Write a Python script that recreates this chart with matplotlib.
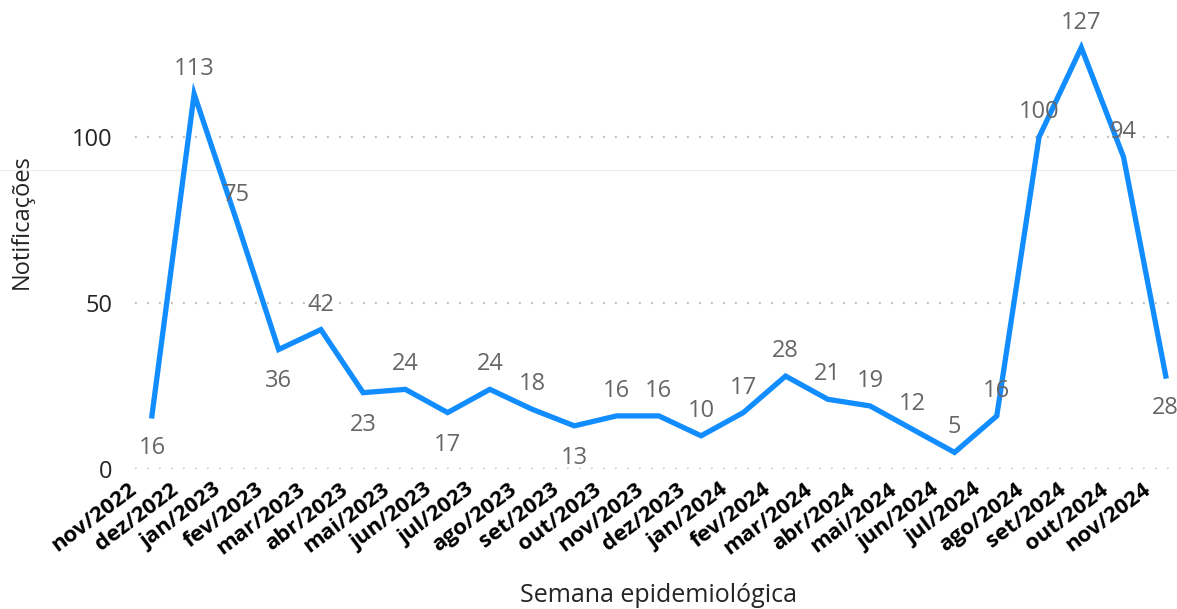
import matplotlib
matplotlib.use("Agg")
import matplotlib.pyplot as plt
from matplotlib.lines import Line2D
import matplotlib.transforms as mtransforms

months = ["nov/2022", "dez/2022", "jan/2023", "fev/2023", "mar/2023", "abr/2023",
          "mai/2023", "jun/2023", "jul/2023", "ago/2023", "set/2023", "out/2023",
          "nov/2023", "dez/2023", "jan/2024", "fev/2024", "mar/2024", "abr/2024",
          "mai/2024", "jun/2024", "jul/2024", "ago/2024", "set/2024", "out/2024",
          "nov/2024"]
values = [16, 113, 75, 36, 42, 23, 24, 17, 24, 18, 13, 16, 16, 10, 17, 28, 21, 19,
          12, 5, 16, 100, 127, 94, 28]
# label placement: True = above point, False = below
label_above = [False, True, True, False, True, False, True, False, True, True, False,
               True, True, True, True, True, True, True, True, True, True, True, True,
               True, False]
yticks = [0, 50, 100]

plt.rcParams['font.family'] = ['Open Sans', 'DejaVu Sans']

fig = plt.figure(figsize=(11.77, 6.09), dpi=100)
ax = fig.add_axes([135 / 1177, (609 - 469) / 609, (1170 - 135) / 1177, (469 - 11) / 609])
ax.patch.set_alpha(0)

fig.add_artist(Line2D([0, 1], [(609 - 170) / 609] * 2, transform=fig.transFigure,
                      color='#ebebeb', lw=0.8, zorder=0))

x = list(range(len(values)))
ax.plot(x, values, color='#118DFF', lw=3.8, solid_joinstyle='miter', clip_on=False, zorder=3)

for xi, v, up in zip(x, values, label_above):
    ax.annotate(str(v), (xi, v), xytext=(0, 18 if up else -23), textcoords='offset points',
                ha='center', va='center', fontsize=17, color='#666666', zorder=4)

ax.set_xlim(-0.40, 24.1)
ax.set_ylim(0, 138)
ax.set_yticks(yticks)
ax.set_yticklabels([str(t) for t in yticks], fontsize=17, color='#252423')
ax.set_xticks(x)
ax.set_xticklabels([])

offset = mtransforms.ScaledTranslation(-24 / 100, -10 / 100, fig.dpi_scale_trans)
for xi, m in zip(x, months):
    ax.text(xi, 0, m, transform=ax.get_xaxis_transform() + offset, rotation=37,
            ha='right', va='top', rotation_mode='anchor', fontsize=16,
            fontweight='bold', color='#000000')

ax.tick_params(axis='both', length=0)
ax.tick_params(axis='y', pad=16)
for s in ax.spines.values():
    s.set_visible(False)

for t in yticks:
    ax.axhline(t, color='#bdbdbd', lw=1.6, linestyle=(0, (0.8, 4.6)), zorder=1)

ax.set_ylabel('Notificações', fontsize=17, color='#252423')
ax.yaxis.set_label_coords(-0.0976, 0.54)
fig.text(658 / 1177, 1 - 595 / 609, 'Semana epidemiológica', ha='center', va='center',
         fontsize=18, color='#252423')

fig.savefig('out.png', dpi=100)
